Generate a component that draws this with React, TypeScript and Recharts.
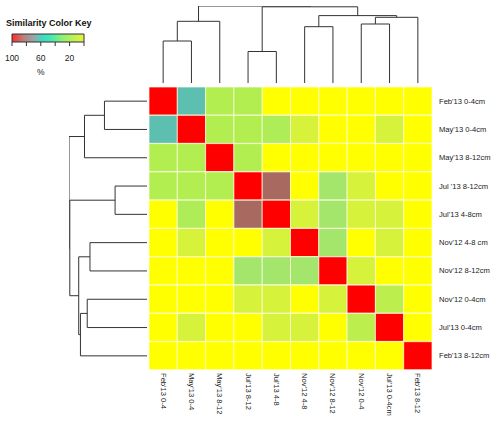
import {
  BarChart,
  Bar,
  Cell,
  XAxis,
  YAxis,
  ScatterChart,
  Scatter,
  ComposedChart,
  Line,
  ReferenceArea,
} from "recharts";

const FONT = '"Liberation Sans", Arial, sans-serif';

const rowLabels = [
  "Feb'13 0-4cm",
  "May'13 0-4cm",
  "May'13 8-12cm",
  "Jul '13 8-12cm",
  "Jul'13 4-8cm",
  "Nov'12 4-8 cm",
  "Nov'12 8-12cm",
  "Nov'12 0-4cm",
  "Jul'13 0-4cm",
  "Feb'13 8-12cm",
];

const colLabels = [
  "Feb'13 0-4",
  "May'13 0-4",
  "May'13 8-12",
  "Jul'13 8-12",
  "Jul'13 4-8",
  "Nov'12 4-8",
  "Nov'12 8-12",
  "Nov'12 0-4",
  "Jul'13 0-4cm",
  "Feb'13 8-12",
];

// similarity in %, rows top->bottom, columns left->right
const similarity: number[][] = [
  [100, 62, 38, 38, 8, 8, 8, 8, 8, 8],
  [62, 100, 38, 38, 40, 22, 8, 8, 22, 8],
  [38, 38, 100, 38, 8, 8, 8, 8, 8, 8],
  [38, 38, 38, 100, 85, 8, 45, 22, 8, 8],
  [8, 40, 8, 85, 100, 22, 45, 22, 22, 8],
  [8, 22, 8, 8, 22, 100, 45, 8, 22, 8],
  [8, 8, 8, 45, 45, 45, 100, 22, 8, 8],
  [8, 8, 8, 22, 22, 8, 22, 100, 34, 8],
  [8, 22, 8, 8, 22, 22, 8, 34, 100, 8],
  [8, 8, 8, 8, 8, 8, 8, 8, 8, 100],
];

// dendrogram merges: [left node, right node, height]; leaves are 0..9, merges get ids from 10
const merges: [number, number, number][] = [
  [0, 1, 42],
  [10, 2, 61.7],
  [3, 4, 31.5],
  [5, 6, 56.3],
  [7, 8, 59],
  [14, 9, 65.7],
  [13, 15, 67.4],
  [12, 16, 76.2],
  [11, 17, 77],
];

const keyTicks = [100, 80, 60, 40, 20, 0];
const keyLabels = [100, 60, 20];

const colorStops: [number, string][] = [
  [0, "#ffff00"],
  [8, "#ffff00"],
  [22, "#d6f23a"],
  [34, "#bcef4e"],
  [38, "#b2ee50"],
  [45, "#a4e66c"],
  [62, "#5cbfb0"],
  [85, "#a86a60"],
  [100, "#ff0000"],
];

const keyGradient: [string, string][] = [
  ["0%", "#ff2a2a"],
  ["16%", "#b88080"],
  ["30%", "#98a4a4"],
  ["42%", "#40d8c4"],
  ["55%", "#48e8b0"],
  ["70%", "#90f070"],
  ["100%", "#e8f03c"],
];

function hexToRgb(h: string) {
  const n = parseInt(h.slice(1), 16);
  return [(n >> 16) & 255, (n >> 8) & 255, n & 255];
}

function cellColor(v: number) {
  for (let i = 1; i < colorStops.length; i++) {
    const [v0, c0] = colorStops[i - 1];
    const [v1, c1] = colorStops[i];
    if (v <= v1) {
      const t = v1 === v0 ? 0 : (v - v0) / (v1 - v0);
      const a = hexToRgb(c0);
      const b = hexToRgb(c1);
      const m = a.map((x, k) => Math.round(x + (b[k] - x) * t));
      return `rgb(${m[0]},${m[1]},${m[2]})`;
    }
  }
  return colorStops[colorStops.length - 1][1];
}

function dendroPaths() {
  const pos: number[] = rowLabels.map((_, i) => i + 0.5);
  const hgt: number[] = rowLabels.map(() => 0);
  return merges.map(([a, b, h]) => {
    const seg = [
      { p: pos[a], h: hgt[a] },
      { p: pos[a], h },
      { p: pos[b], h },
      { p: pos[b], h: hgt[b] },
    ];
    pos.push((pos[a] + pos[b]) / 2);
    hgt.push(h);
    return seg;
  });
}

const heatData = rowLabels.map((name) => {
  const row: Record<string, string | number> = { name };
  colLabels.forEach((_, j) => (row[`c${j}`] = 1));
  return row;
});

const colTicks = colLabels.map((_, j) => j + 0.5);

const ColTick = (props: any) => {
  const { x, y, payload } = props;
  const idx = Math.floor(payload.value);
  return (
    <text
      transform={`translate(${x},${y + 3}) rotate(90)`}
      textAnchor="start"
      dominantBaseline="central"
      fontSize={7.6}
      fill="#222"
      fontFamily={FONT}
    >
      {colLabels[idx]}
    </text>
  );
};

const RowTick = (props: any) => {
  const { x, y, payload } = props;
  return (
    <text
      x={x + 7}
      y={y}
      textAnchor="start"
      dominantBaseline="central"
      fontSize={7.6}
      fill="#222"
      fontFamily={FONT}
    >
      {payload.value}
    </text>
  );
};

const KeyTick = (props: any) => {
  const { x, y, payload } = props;
  if (!keyLabels.includes(payload.value)) return <g />;
  return (
    <g>
      <text x={x} y={y + 13} textAnchor="middle" fontSize={8.5} fill="#222" fontFamily={FONT}>
        {payload.value}
      </text>
      {payload.value === 60 && (
        <text x={x} y={y + 27} textAnchor="middle" fontSize={8.5} fill="#222" fontFamily={FONT}>
          %
        </text>
      )}
    </g>
  );
};

const noDot = () => <g />;

export default function App() {
  const paths = dendroPaths();
  const keyData = keyTicks.map((v) => ({ v, y: 0.5 }));

  return (
    <div
      style={{
        position: "absolute",
        left: 0,
        top: 0,
        width: 498,
        height: 427,
        background: "#fff",
        fontFamily: FONT,
      }}
    >
      <div
        style={{
          position: "absolute",
          left: 6,
          top: 18,
          fontSize: 9,
          fontWeight: "bold",
          color: "#111",
          whiteSpace: "nowrap",
        }}
      >
        Similarity Color Key
      </div>

      <div style={{ position: "absolute", left: 0, top: 30 }}>
        <ComposedChart
          width={96}
          height={56}
          data={keyData}
          margin={{ top: 4, right: 12, left: 12, bottom: 0 }}
        >
          <defs>
            <linearGradient id="keyGrad" x1="0" y1="0" x2="1" y2="0">
              {keyGradient.map(([o, c]) => (
                <stop key={o} offset={o} stopColor={c} />
              ))}
            </linearGradient>
          </defs>
          <XAxis
            type="number"
            dataKey="v"
            domain={[0, 100]}
            reversed
            ticks={keyTicks}
            interval={0}
            height={44}
            axisLine={false}
            tickSize={4}
            tickLine={{ stroke: "#333" }}
            tick={KeyTick}
          />
          <YAxis type="number" domain={[0, 1]} hide />
          <ReferenceArea
            x1={100}
            x2={0}
            y1={0}
            y2={1}
            fill="url(#keyGrad)"
            fillOpacity={1}
            stroke="#333"
            strokeWidth={1}
          />
          <Line dataKey="y" stroke="none" dot={false} isAnimationActive={false} />
        </ComposedChart>
      </div>

      <div style={{ position: "absolute", left: 149, top: 6 }}>
        <ScatterChart width={283} height={77} margin={{ top: 0, right: 0, left: 0, bottom: 0 }}>
          <XAxis type="number" dataKey="p" domain={[0, 10]} hide />
          <YAxis type="number" dataKey="h" domain={[0, 77]} hide />
          {paths.map((seg, i) => (
            <Scatter
              key={i}
              data={seg}
              line={{ stroke: "#333", strokeWidth: 1 }}
              shape={noDot}
              isAnimationActive={false}
            />
          ))}
        </ScatterChart>
      </div>

      <div style={{ position: "absolute", left: 69, top: 87 }}>
        <ScatterChart width={78} height={283} margin={{ top: 0, right: 0, left: 0, bottom: 0 }}>
          <XAxis type="number" dataKey="h" domain={[0, 77]} reversed hide />
          <YAxis type="number" dataKey="p" domain={[0, 10]} reversed hide />
          {paths.map((seg, i) => (
            <Scatter
              key={i}
              data={seg}
              line={{ stroke: "#333", strokeWidth: 1 }}
              shape={noDot}
              isAnimationActive={false}
            />
          ))}
        </ScatterChart>
      </div>

      <div style={{ position: "absolute", left: 149, top: 87 }}>
        <BarChart
          width={349}
          height={343}
          data={heatData}
          layout="vertical"
          barCategoryGap={0}
          margin={{ top: 0, right: 0, left: 0, bottom: 0 }}
        >
          <XAxis
            type="number"
            domain={[0, 10]}
            ticks={colTicks}
            interval={0}
            height={60}
            tickLine={false}
            axisLine={false}
            tickSize={0}
            tickMargin={0}
            tick={ColTick}
          />
          <YAxis
            type="category"
            dataKey="name"
            orientation="right"
            width={66}
            tickLine={false}
            axisLine={false}
            tickSize={0}
            tickMargin={0}
            interval={0}
            tick={RowTick}
          />
          {colLabels.map((_, j) => (
            <Bar
              key={j}
              dataKey={`c${j}`}
              stackId="a"
              stroke="rgba(255,255,225,0.7)"
              strokeWidth={1}
              isAnimationActive={false}
            >
              {rowLabels.map((_, i) => (
                <Cell key={i} fill={cellColor(similarity[i][j])} />
              ))}
            </Bar>
          ))}
        </BarChart>
      </div>
    </div>
  );
}
